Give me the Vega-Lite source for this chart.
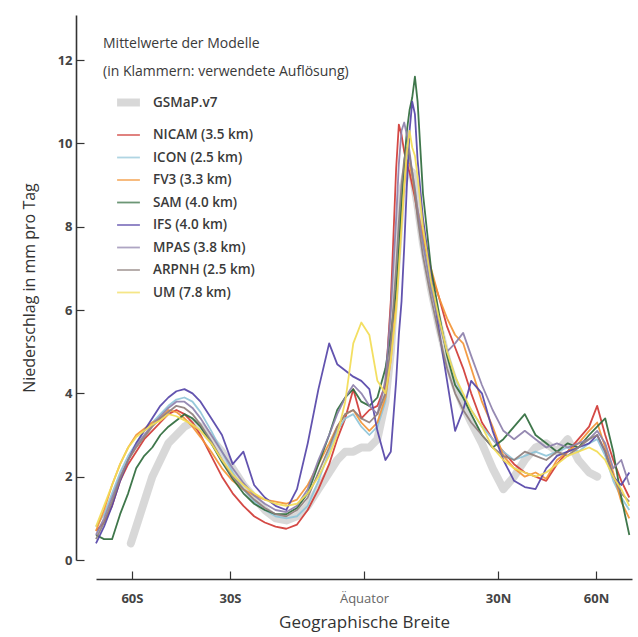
{
"$schema": "https://vega.github.io/schema/vega-lite/v6.json",
"width": 536, "height": 545,
"autosize": {"type": "none"},
"padding": {"left": 96, "top": 15, "right": 6, "bottom": 77},
"background": "white",
"config": {"view": {"stroke": null}, "font": "Open Sans", "axis": {"grid": false}},
"data": {"values": [
{"m":"GSMaP.v7","s":-0.87,"v":0.4},{"m":"GSMaP.v7","s":-0.85,"v":0.8},{"m":"GSMaP.v7","s":-0.82,"v":1.4},{"m":"GSMaP.v7","s":-0.79,"v":2.0},{"m":"GSMaP.v7","s":-0.76,"v":2.4},{"m":"GSMaP.v7","s":-0.73,"v":2.8},{"m":"GSMaP.v7","s":-0.7,"v":3.0},{"m":"GSMaP.v7","s":-0.67,"v":3.2},{"m":"GSMaP.v7","s":-0.64,"v":3.3},{"m":"GSMaP.v7","s":-0.61,"v":3.2},{"m":"GSMaP.v7","s":-0.57,"v":2.9},{"m":"GSMaP.v7","s":-0.53,"v":2.6},{"m":"GSMaP.v7","s":-0.49,"v":2.2},{"m":"GSMaP.v7","s":-0.45,"v":1.8},{"m":"GSMaP.v7","s":-0.41,"v":1.5},{"m":"GSMaP.v7","s":-0.37,"v":1.2},{"m":"GSMaP.v7","s":-0.33,"v":1.0},{"m":"GSMaP.v7","s":-0.29,"v":0.95},{"m":"GSMaP.v7","s":-0.25,"v":1.05},{"m":"GSMaP.v7","s":-0.21,"v":1.3},{"m":"GSMaP.v7","s":-0.17,"v":1.7},{"m":"GSMaP.v7","s":-0.13,"v":2.1},{"m":"GSMaP.v7","s":-0.1,"v":2.4},{"m":"GSMaP.v7","s":-0.07,"v":2.6},{"m":"GSMaP.v7","s":-0.04,"v":2.6},{"m":"GSMaP.v7","s":-0.01,"v":2.7},{"m":"GSMaP.v7","s":0.02,"v":2.7},{"m":"GSMaP.v7","s":0.05,"v":2.9},{"m":"GSMaP.v7","s":0.08,"v":3.8},{"m":"GSMaP.v7","s":0.1,"v":5.0},{"m":"GSMaP.v7","s":0.12,"v":7.0},{"m":"GSMaP.v7","s":0.14,"v":8.8},{"m":"GSMaP.v7","s":0.16,"v":9.4},{"m":"GSMaP.v7","s":0.18,"v":9.3},{"m":"GSMaP.v7","s":0.2,"v":8.5},{"m":"GSMaP.v7","s":0.22,"v":7.6},{"m":"GSMaP.v7","s":0.25,"v":6.5},{"m":"GSMaP.v7","s":0.28,"v":5.6},{"m":"GSMaP.v7","s":0.31,"v":4.8},{"m":"GSMaP.v7","s":0.34,"v":4.2},{"m":"GSMaP.v7","s":0.37,"v":3.7},{"m":"GSMaP.v7","s":0.4,"v":3.3},{"m":"GSMaP.v7","s":0.44,"v":2.8},{"m":"GSMaP.v7","s":0.48,"v":2.2},{"m":"GSMaP.v7","s":0.52,"v":1.7},{"m":"GSMaP.v7","s":0.56,"v":2.0},{"m":"GSMaP.v7","s":0.6,"v":2.4},{"m":"GSMaP.v7","s":0.64,"v":2.7},{"m":"GSMaP.v7","s":0.68,"v":2.8},{"m":"GSMaP.v7","s":0.72,"v":2.6},{"m":"GSMaP.v7","s":0.76,"v":2.9},{"m":"GSMaP.v7","s":0.8,"v":2.4},{"m":"GSMaP.v7","s":0.84,"v":2.1},{"m":"GSMaP.v7","s":0.87,"v":2.0},

{"m":"NICAM (3.5 km)","s":-1,"v":0.7},{"m":"NICAM (3.5 km)","s":-0.97,"v":0.9},{"m":"NICAM (3.5 km)","s":-0.94,"v":1.3},{"m":"NICAM (3.5 km)","s":-0.91,"v":1.9},{"m":"NICAM (3.5 km)","s":-0.88,"v":2.3},{"m":"NICAM (3.5 km)","s":-0.85,"v":2.6},{"m":"NICAM (3.5 km)","s":-0.82,"v":2.9},{"m":"NICAM (3.5 km)","s":-0.79,"v":3.1},{"m":"NICAM (3.5 km)","s":-0.76,"v":3.3},{"m":"NICAM (3.5 km)","s":-0.73,"v":3.5},{"m":"NICAM (3.5 km)","s":-0.7,"v":3.6},{"m":"NICAM (3.5 km)","s":-0.67,"v":3.5},{"m":"NICAM (3.5 km)","s":-0.64,"v":3.3},{"m":"NICAM (3.5 km)","s":-0.61,"v":3.0},{"m":"NICAM (3.5 km)","s":-0.57,"v":2.5},{"m":"NICAM (3.5 km)","s":-0.53,"v":2.0},{"m":"NICAM (3.5 km)","s":-0.49,"v":1.6},{"m":"NICAM (3.5 km)","s":-0.45,"v":1.3},{"m":"NICAM (3.5 km)","s":-0.41,"v":1.05},{"m":"NICAM (3.5 km)","s":-0.37,"v":0.9},{"m":"NICAM (3.5 km)","s":-0.33,"v":0.8},{"m":"NICAM (3.5 km)","s":-0.29,"v":0.75},{"m":"NICAM (3.5 km)","s":-0.25,"v":0.85},{"m":"NICAM (3.5 km)","s":-0.21,"v":1.2},{"m":"NICAM (3.5 km)","s":-0.17,"v":1.7},{"m":"NICAM (3.5 km)","s":-0.13,"v":2.3},{"m":"NICAM (3.5 km)","s":-0.1,"v":2.9},{"m":"NICAM (3.5 km)","s":-0.07,"v":3.4},{"m":"NICAM (3.5 km)","s":-0.04,"v":4.1},{"m":"NICAM (3.5 km)","s":-0.01,"v":3.4},{"m":"NICAM (3.5 km)","s":0.02,"v":3.6},{"m":"NICAM (3.5 km)","s":0.05,"v":3.7},{"m":"NICAM (3.5 km)","s":0.08,"v":4.2},{"m":"NICAM (3.5 km)","s":0.1,"v":6.2},{"m":"NICAM (3.5 km)","s":0.12,"v":9.4},{"m":"NICAM (3.5 km)","s":0.13,"v":10.45},{"m":"NICAM (3.5 km)","s":0.14,"v":10.2},{"m":"NICAM (3.5 km)","s":0.15,"v":9.8},{"m":"NICAM (3.5 km)","s":0.16,"v":9.5},{"m":"NICAM (3.5 km)","s":0.17,"v":9.3},{"m":"NICAM (3.5 km)","s":0.18,"v":9.0},{"m":"NICAM (3.5 km)","s":0.19,"v":8.7},{"m":"NICAM (3.5 km)","s":0.2,"v":8.3},{"m":"NICAM (3.5 km)","s":0.22,"v":7.7},{"m":"NICAM (3.5 km)","s":0.25,"v":6.9},{"m":"NICAM (3.5 km)","s":0.28,"v":6.3},{"m":"NICAM (3.5 km)","s":0.31,"v":5.6},{"m":"NICAM (3.5 km)","s":0.34,"v":5.1},{"m":"NICAM (3.5 km)","s":0.37,"v":4.6},{"m":"NICAM (3.5 km)","s":0.4,"v":4.0},{"m":"NICAM (3.5 km)","s":0.44,"v":3.3},{"m":"NICAM (3.5 km)","s":0.48,"v":2.9},{"m":"NICAM (3.5 km)","s":0.52,"v":2.6},{"m":"NICAM (3.5 km)","s":0.56,"v":2.3},{"m":"NICAM (3.5 km)","s":0.6,"v":2.1},{"m":"NICAM (3.5 km)","s":0.64,"v":2.0},{"m":"NICAM (3.5 km)","s":0.68,"v":1.9},{"m":"NICAM (3.5 km)","s":0.72,"v":2.3},{"m":"NICAM (3.5 km)","s":0.76,"v":2.6},{"m":"NICAM (3.5 km)","s":0.8,"v":2.9},{"m":"NICAM (3.5 km)","s":0.84,"v":3.2},{"m":"NICAM (3.5 km)","s":0.87,"v":3.7},{"m":"NICAM (3.5 km)","s":0.9,"v":3.0},{"m":"NICAM (3.5 km)","s":0.93,"v":2.4},{"m":"NICAM (3.5 km)","s":0.96,"v":1.9},{"m":"NICAM (3.5 km)","s":0.99,"v":1.5},

{"m":"ICON (2.5 km)","s":-1,"v":0.8},{"m":"ICON (2.5 km)","s":-0.97,"v":1.1},{"m":"ICON (2.5 km)","s":-0.94,"v":1.6},{"m":"ICON (2.5 km)","s":-0.91,"v":2.1},{"m":"ICON (2.5 km)","s":-0.88,"v":2.5},{"m":"ICON (2.5 km)","s":-0.85,"v":2.8},{"m":"ICON (2.5 km)","s":-0.82,"v":3.1},{"m":"ICON (2.5 km)","s":-0.79,"v":3.3},{"m":"ICON (2.5 km)","s":-0.76,"v":3.5},{"m":"ICON (2.5 km)","s":-0.73,"v":3.7},{"m":"ICON (2.5 km)","s":-0.7,"v":3.85},{"m":"ICON (2.5 km)","s":-0.67,"v":3.9},{"m":"ICON (2.5 km)","s":-0.64,"v":3.8},{"m":"ICON (2.5 km)","s":-0.61,"v":3.55},{"m":"ICON (2.5 km)","s":-0.57,"v":3.1},{"m":"ICON (2.5 km)","s":-0.53,"v":2.6},{"m":"ICON (2.5 km)","s":-0.49,"v":2.1},{"m":"ICON (2.5 km)","s":-0.45,"v":1.7},{"m":"ICON (2.5 km)","s":-0.41,"v":1.4},{"m":"ICON (2.5 km)","s":-0.37,"v":1.2},{"m":"ICON (2.5 km)","s":-0.33,"v":1.05},{"m":"ICON (2.5 km)","s":-0.29,"v":1.0},{"m":"ICON (2.5 km)","s":-0.25,"v":1.05},{"m":"ICON (2.5 km)","s":-0.21,"v":1.3},{"m":"ICON (2.5 km)","s":-0.17,"v":1.9},{"m":"ICON (2.5 km)","s":-0.13,"v":2.6},{"m":"ICON (2.5 km)","s":-0.1,"v":3.1},{"m":"ICON (2.5 km)","s":-0.07,"v":3.4},{"m":"ICON (2.5 km)","s":-0.04,"v":3.5},{"m":"ICON (2.5 km)","s":-0.01,"v":3.2},{"m":"ICON (2.5 km)","s":0.02,"v":3.0},{"m":"ICON (2.5 km)","s":0.05,"v":3.2},{"m":"ICON (2.5 km)","s":0.08,"v":3.8},{"m":"ICON (2.5 km)","s":0.1,"v":5.0},{"m":"ICON (2.5 km)","s":0.12,"v":6.8},{"m":"ICON (2.5 km)","s":0.13,"v":7.8},{"m":"ICON (2.5 km)","s":0.14,"v":8.7},{"m":"ICON (2.5 km)","s":0.15,"v":9.4},{"m":"ICON (2.5 km)","s":0.16,"v":9.8},{"m":"ICON (2.5 km)","s":0.17,"v":9.6},{"m":"ICON (2.5 km)","s":0.18,"v":9.3},{"m":"ICON (2.5 km)","s":0.19,"v":8.9},{"m":"ICON (2.5 km)","s":0.2,"v":8.4},{"m":"ICON (2.5 km)","s":0.22,"v":7.6},{"m":"ICON (2.5 km)","s":0.25,"v":6.6},{"m":"ICON (2.5 km)","s":0.28,"v":5.8},{"m":"ICON (2.5 km)","s":0.31,"v":5.0},{"m":"ICON (2.5 km)","s":0.34,"v":4.4},{"m":"ICON (2.5 km)","s":0.37,"v":3.9},{"m":"ICON (2.5 km)","s":0.4,"v":3.6},{"m":"ICON (2.5 km)","s":0.44,"v":3.2},{"m":"ICON (2.5 km)","s":0.48,"v":2.9},{"m":"ICON (2.5 km)","s":0.52,"v":2.6},{"m":"ICON (2.5 km)","s":0.56,"v":2.4},{"m":"ICON (2.5 km)","s":0.6,"v":2.5},{"m":"ICON (2.5 km)","s":0.64,"v":2.6},{"m":"ICON (2.5 km)","s":0.68,"v":2.5},{"m":"ICON (2.5 km)","s":0.72,"v":2.6},{"m":"ICON (2.5 km)","s":0.76,"v":2.7},{"m":"ICON (2.5 km)","s":0.8,"v":2.6},{"m":"ICON (2.5 km)","s":0.84,"v":2.8},{"m":"ICON (2.5 km)","s":0.87,"v":2.9},{"m":"ICON (2.5 km)","s":0.9,"v":2.5},{"m":"ICON (2.5 km)","s":0.93,"v":1.9},{"m":"ICON (2.5 km)","s":0.96,"v":1.5},{"m":"ICON (2.5 km)","s":0.99,"v":1.2},

{"m":"FV3 (3.3 km)","s":-1,"v":0.7},{"m":"FV3 (3.3 km)","s":-0.97,"v":1.2},{"m":"FV3 (3.3 km)","s":-0.94,"v":1.8},{"m":"FV3 (3.3 km)","s":-0.91,"v":2.3},{"m":"FV3 (3.3 km)","s":-0.88,"v":2.7},{"m":"FV3 (3.3 km)","s":-0.85,"v":3.0},{"m":"FV3 (3.3 km)","s":-0.82,"v":3.15},{"m":"FV3 (3.3 km)","s":-0.79,"v":3.3},{"m":"FV3 (3.3 km)","s":-0.76,"v":3.4},{"m":"FV3 (3.3 km)","s":-0.73,"v":3.6},{"m":"FV3 (3.3 km)","s":-0.7,"v":3.55},{"m":"FV3 (3.3 km)","s":-0.67,"v":3.4},{"m":"FV3 (3.3 km)","s":-0.64,"v":3.2},{"m":"FV3 (3.3 km)","s":-0.61,"v":2.95},{"m":"FV3 (3.3 km)","s":-0.57,"v":2.6},{"m":"FV3 (3.3 km)","s":-0.53,"v":2.2},{"m":"FV3 (3.3 km)","s":-0.49,"v":1.9},{"m":"FV3 (3.3 km)","s":-0.45,"v":1.7},{"m":"FV3 (3.3 km)","s":-0.41,"v":1.55},{"m":"FV3 (3.3 km)","s":-0.37,"v":1.45},{"m":"FV3 (3.3 km)","s":-0.33,"v":1.4},{"m":"FV3 (3.3 km)","s":-0.29,"v":1.35},{"m":"FV3 (3.3 km)","s":-0.25,"v":1.45},{"m":"FV3 (3.3 km)","s":-0.21,"v":1.8},{"m":"FV3 (3.3 km)","s":-0.17,"v":2.3},{"m":"FV3 (3.3 km)","s":-0.13,"v":2.8},{"m":"FV3 (3.3 km)","s":-0.1,"v":3.2},{"m":"FV3 (3.3 km)","s":-0.07,"v":3.5},{"m":"FV3 (3.3 km)","s":-0.04,"v":3.6},{"m":"FV3 (3.3 km)","s":-0.01,"v":3.3},{"m":"FV3 (3.3 km)","s":0.02,"v":3.1},{"m":"FV3 (3.3 km)","s":0.05,"v":3.3},{"m":"FV3 (3.3 km)","s":0.08,"v":3.9},{"m":"FV3 (3.3 km)","s":0.1,"v":4.8},{"m":"FV3 (3.3 km)","s":0.12,"v":6.2},{"m":"FV3 (3.3 km)","s":0.13,"v":7.2},{"m":"FV3 (3.3 km)","s":0.14,"v":8.2},{"m":"FV3 (3.3 km)","s":0.15,"v":9.0},{"m":"FV3 (3.3 km)","s":0.16,"v":9.6},{"m":"FV3 (3.3 km)","s":0.17,"v":9.5},{"m":"FV3 (3.3 km)","s":0.18,"v":9.2},{"m":"FV3 (3.3 km)","s":0.19,"v":8.8},{"m":"FV3 (3.3 km)","s":0.2,"v":8.4},{"m":"FV3 (3.3 km)","s":0.22,"v":7.8},{"m":"FV3 (3.3 km)","s":0.25,"v":7.0},{"m":"FV3 (3.3 km)","s":0.28,"v":6.3},{"m":"FV3 (3.3 km)","s":0.31,"v":5.8},{"m":"FV3 (3.3 km)","s":0.34,"v":5.4},{"m":"FV3 (3.3 km)","s":0.37,"v":5.2},{"m":"FV3 (3.3 km)","s":0.4,"v":4.6},{"m":"FV3 (3.3 km)","s":0.44,"v":3.8},{"m":"FV3 (3.3 km)","s":0.48,"v":3.2},{"m":"FV3 (3.3 km)","s":0.52,"v":2.5},{"m":"FV3 (3.3 km)","s":0.56,"v":2.2},{"m":"FV3 (3.3 km)","s":0.6,"v":2.0},{"m":"FV3 (3.3 km)","s":0.64,"v":2.1},{"m":"FV3 (3.3 km)","s":0.68,"v":1.95},{"m":"FV3 (3.3 km)","s":0.72,"v":2.4},{"m":"FV3 (3.3 km)","s":0.76,"v":2.6},{"m":"FV3 (3.3 km)","s":0.8,"v":2.8},{"m":"FV3 (3.3 km)","s":0.84,"v":3.1},{"m":"FV3 (3.3 km)","s":0.87,"v":3.3},{"m":"FV3 (3.3 km)","s":0.9,"v":2.7},{"m":"FV3 (3.3 km)","s":0.93,"v":2.1},{"m":"FV3 (3.3 km)","s":0.96,"v":1.4},{"m":"FV3 (3.3 km)","s":0.99,"v":1.0},

{"m":"SAM (4.0 km)","s":-1,"v":0.6},{"m":"SAM (4.0 km)","s":-0.97,"v":0.5},{"m":"SAM (4.0 km)","s":-0.94,"v":0.5},{"m":"SAM (4.0 km)","s":-0.91,"v":1.1},{"m":"SAM (4.0 km)","s":-0.88,"v":1.6},{"m":"SAM (4.0 km)","s":-0.85,"v":2.2},{"m":"SAM (4.0 km)","s":-0.82,"v":2.5},{"m":"SAM (4.0 km)","s":-0.79,"v":2.7},{"m":"SAM (4.0 km)","s":-0.76,"v":3.0},{"m":"SAM (4.0 km)","s":-0.73,"v":3.2},{"m":"SAM (4.0 km)","s":-0.7,"v":3.35},{"m":"SAM (4.0 km)","s":-0.67,"v":3.5},{"m":"SAM (4.0 km)","s":-0.64,"v":3.4},{"m":"SAM (4.0 km)","s":-0.61,"v":3.2},{"m":"SAM (4.0 km)","s":-0.57,"v":2.8},{"m":"SAM (4.0 km)","s":-0.53,"v":2.35},{"m":"SAM (4.0 km)","s":-0.49,"v":1.95},{"m":"SAM (4.0 km)","s":-0.45,"v":1.6},{"m":"SAM (4.0 km)","s":-0.41,"v":1.35},{"m":"SAM (4.0 km)","s":-0.37,"v":1.2},{"m":"SAM (4.0 km)","s":-0.33,"v":1.1},{"m":"SAM (4.0 km)","s":-0.29,"v":1.1},{"m":"SAM (4.0 km)","s":-0.25,"v":1.25},{"m":"SAM (4.0 km)","s":-0.21,"v":1.6},{"m":"SAM (4.0 km)","s":-0.17,"v":2.3},{"m":"SAM (4.0 km)","s":-0.13,"v":3.0},{"m":"SAM (4.0 km)","s":-0.1,"v":3.6},{"m":"SAM (4.0 km)","s":-0.07,"v":3.9},{"m":"SAM (4.0 km)","s":-0.04,"v":4.1},{"m":"SAM (4.0 km)","s":-0.01,"v":3.8},{"m":"SAM (4.0 km)","s":0.02,"v":3.7},{"m":"SAM (4.0 km)","s":0.05,"v":3.9},{"m":"SAM (4.0 km)","s":0.08,"v":4.6},{"m":"SAM (4.0 km)","s":0.1,"v":5.4},{"m":"SAM (4.0 km)","s":0.12,"v":6.5},{"m":"SAM (4.0 km)","s":0.13,"v":7.4},{"m":"SAM (4.0 km)","s":0.14,"v":8.6},{"m":"SAM (4.0 km)","s":0.15,"v":9.5},{"m":"SAM (4.0 km)","s":0.16,"v":10.3},{"m":"SAM (4.0 km)","s":0.17,"v":10.8},{"m":"SAM (4.0 km)","s":0.18,"v":11.1},{"m":"SAM (4.0 km)","s":0.19,"v":11.6},{"m":"SAM (4.0 km)","s":0.2,"v":11.0},{"m":"SAM (4.0 km)","s":0.22,"v":8.8},{"m":"SAM (4.0 km)","s":0.25,"v":7.0},{"m":"SAM (4.0 km)","s":0.28,"v":5.9},{"m":"SAM (4.0 km)","s":0.31,"v":4.9},{"m":"SAM (4.0 km)","s":0.34,"v":4.2},{"m":"SAM (4.0 km)","s":0.37,"v":3.9},{"m":"SAM (4.0 km)","s":0.4,"v":3.5},{"m":"SAM (4.0 km)","s":0.44,"v":3.0},{"m":"SAM (4.0 km)","s":0.48,"v":2.7},{"m":"SAM (4.0 km)","s":0.52,"v":2.9},{"m":"SAM (4.0 km)","s":0.56,"v":3.2},{"m":"SAM (4.0 km)","s":0.6,"v":3.5},{"m":"SAM (4.0 km)","s":0.64,"v":3.0},{"m":"SAM (4.0 km)","s":0.68,"v":2.8},{"m":"SAM (4.0 km)","s":0.72,"v":2.6},{"m":"SAM (4.0 km)","s":0.76,"v":2.8},{"m":"SAM (4.0 km)","s":0.8,"v":2.7},{"m":"SAM (4.0 km)","s":0.84,"v":3.0},{"m":"SAM (4.0 km)","s":0.87,"v":3.2},{"m":"SAM (4.0 km)","s":0.9,"v":3.4},{"m":"SAM (4.0 km)","s":0.93,"v":2.6},{"m":"SAM (4.0 km)","s":0.96,"v":1.5},{"m":"SAM (4.0 km)","s":0.99,"v":0.6},

{"m":"IFS (4.0 km)","s":-1,"v":0.4},{"m":"IFS (4.0 km)","s":-0.97,"v":0.8},{"m":"IFS (4.0 km)","s":-0.94,"v":1.3},{"m":"IFS (4.0 km)","s":-0.91,"v":1.9},{"m":"IFS (4.0 km)","s":-0.88,"v":2.4},{"m":"IFS (4.0 km)","s":-0.85,"v":2.8},{"m":"IFS (4.0 km)","s":-0.82,"v":3.1},{"m":"IFS (4.0 km)","s":-0.79,"v":3.4},{"m":"IFS (4.0 km)","s":-0.76,"v":3.7},{"m":"IFS (4.0 km)","s":-0.73,"v":3.9},{"m":"IFS (4.0 km)","s":-0.7,"v":4.05},{"m":"IFS (4.0 km)","s":-0.67,"v":4.1},{"m":"IFS (4.0 km)","s":-0.64,"v":4.0},{"m":"IFS (4.0 km)","s":-0.61,"v":3.8},{"m":"IFS (4.0 km)","s":-0.57,"v":3.4},{"m":"IFS (4.0 km)","s":-0.53,"v":3.0},{"m":"IFS (4.0 km)","s":-0.49,"v":2.3},{"m":"IFS (4.0 km)","s":-0.45,"v":2.6},{"m":"IFS (4.0 km)","s":-0.41,"v":1.8},{"m":"IFS (4.0 km)","s":-0.37,"v":1.5},{"m":"IFS (4.0 km)","s":-0.33,"v":1.3},{"m":"IFS (4.0 km)","s":-0.29,"v":1.2},{"m":"IFS (4.0 km)","s":-0.25,"v":1.7},{"m":"IFS (4.0 km)","s":-0.21,"v":2.8},{"m":"IFS (4.0 km)","s":-0.17,"v":4.1},{"m":"IFS (4.0 km)","s":-0.13,"v":5.2},{"m":"IFS (4.0 km)","s":-0.1,"v":4.7},{"m":"IFS (4.0 km)","s":-0.07,"v":4.55},{"m":"IFS (4.0 km)","s":-0.04,"v":4.4},{"m":"IFS (4.0 km)","s":-0.01,"v":4.3},{"m":"IFS (4.0 km)","s":0.02,"v":4.1},{"m":"IFS (4.0 km)","s":0.05,"v":3.1},{"m":"IFS (4.0 km)","s":0.08,"v":2.4},{"m":"IFS (4.0 km)","s":0.1,"v":2.6},{"m":"IFS (4.0 km)","s":0.12,"v":4.3},{"m":"IFS (4.0 km)","s":0.13,"v":5.4},{"m":"IFS (4.0 km)","s":0.14,"v":6.2},{"m":"IFS (4.0 km)","s":0.15,"v":7.5},{"m":"IFS (4.0 km)","s":0.16,"v":9.0},{"m":"IFS (4.0 km)","s":0.17,"v":10.3},{"m":"IFS (4.0 km)","s":0.18,"v":11.0},{"m":"IFS (4.0 km)","s":0.19,"v":10.7},{"m":"IFS (4.0 km)","s":0.2,"v":9.6},{"m":"IFS (4.0 km)","s":0.22,"v":8.2},{"m":"IFS (4.0 km)","s":0.25,"v":6.8},{"m":"IFS (4.0 km)","s":0.28,"v":5.5},{"m":"IFS (4.0 km)","s":0.31,"v":4.3},{"m":"IFS (4.0 km)","s":0.34,"v":3.1},{"m":"IFS (4.0 km)","s":0.37,"v":3.6},{"m":"IFS (4.0 km)","s":0.4,"v":4.3},{"m":"IFS (4.0 km)","s":0.44,"v":4.0},{"m":"IFS (4.0 km)","s":0.48,"v":3.1},{"m":"IFS (4.0 km)","s":0.52,"v":2.4},{"m":"IFS (4.0 km)","s":0.56,"v":1.9},{"m":"IFS (4.0 km)","s":0.6,"v":1.75},{"m":"IFS (4.0 km)","s":0.64,"v":1.7},{"m":"IFS (4.0 km)","s":0.68,"v":2.2},{"m":"IFS (4.0 km)","s":0.72,"v":2.5},{"m":"IFS (4.0 km)","s":0.76,"v":2.6},{"m":"IFS (4.0 km)","s":0.8,"v":2.7},{"m":"IFS (4.0 km)","s":0.84,"v":2.8},{"m":"IFS (4.0 km)","s":0.87,"v":3.0},{"m":"IFS (4.0 km)","s":0.9,"v":2.6},{"m":"IFS (4.0 km)","s":0.93,"v":2.0},{"m":"IFS (4.0 km)","s":0.96,"v":1.8},{"m":"IFS (4.0 km)","s":0.99,"v":2.1},

{"m":"MPAS (3.8 km)","s":-1,"v":0.6},{"m":"MPAS (3.8 km)","s":-0.97,"v":1.0},{"m":"MPAS (3.8 km)","s":-0.94,"v":1.5},{"m":"MPAS (3.8 km)","s":-0.91,"v":2.0},{"m":"MPAS (3.8 km)","s":-0.88,"v":2.4},{"m":"MPAS (3.8 km)","s":-0.85,"v":2.75},{"m":"MPAS (3.8 km)","s":-0.82,"v":3.0},{"m":"MPAS (3.8 km)","s":-0.79,"v":3.25},{"m":"MPAS (3.8 km)","s":-0.76,"v":3.45},{"m":"MPAS (3.8 km)","s":-0.73,"v":3.65},{"m":"MPAS (3.8 km)","s":-0.7,"v":3.8},{"m":"MPAS (3.8 km)","s":-0.67,"v":3.8},{"m":"MPAS (3.8 km)","s":-0.64,"v":3.65},{"m":"MPAS (3.8 km)","s":-0.61,"v":3.4},{"m":"MPAS (3.8 km)","s":-0.57,"v":3.0},{"m":"MPAS (3.8 km)","s":-0.53,"v":2.6},{"m":"MPAS (3.8 km)","s":-0.49,"v":2.2},{"m":"MPAS (3.8 km)","s":-0.45,"v":1.85},{"m":"MPAS (3.8 km)","s":-0.41,"v":1.55},{"m":"MPAS (3.8 km)","s":-0.37,"v":1.35},{"m":"MPAS (3.8 km)","s":-0.33,"v":1.2},{"m":"MPAS (3.8 km)","s":-0.29,"v":1.15},{"m":"MPAS (3.8 km)","s":-0.25,"v":1.3},{"m":"MPAS (3.8 km)","s":-0.21,"v":1.7},{"m":"MPAS (3.8 km)","s":-0.17,"v":2.4},{"m":"MPAS (3.8 km)","s":-0.13,"v":3.0},{"m":"MPAS (3.8 km)","s":-0.1,"v":3.5},{"m":"MPAS (3.8 km)","s":-0.07,"v":3.9},{"m":"MPAS (3.8 km)","s":-0.04,"v":4.2},{"m":"MPAS (3.8 km)","s":-0.01,"v":4.0},{"m":"MPAS (3.8 km)","s":0.02,"v":3.7},{"m":"MPAS (3.8 km)","s":0.05,"v":3.5},{"m":"MPAS (3.8 km)","s":0.08,"v":4.3},{"m":"MPAS (3.8 km)","s":0.1,"v":6.0},{"m":"MPAS (3.8 km)","s":0.12,"v":8.2},{"m":"MPAS (3.8 km)","s":0.13,"v":9.5},{"m":"MPAS (3.8 km)","s":0.14,"v":10.3},{"m":"MPAS (3.8 km)","s":0.15,"v":10.5},{"m":"MPAS (3.8 km)","s":0.16,"v":10.2},{"m":"MPAS (3.8 km)","s":0.17,"v":9.8},{"m":"MPAS (3.8 km)","s":0.18,"v":9.3},{"m":"MPAS (3.8 km)","s":0.19,"v":8.9},{"m":"MPAS (3.8 km)","s":0.2,"v":8.4},{"m":"MPAS (3.8 km)","s":0.22,"v":7.6},{"m":"MPAS (3.8 km)","s":0.25,"v":6.5},{"m":"MPAS (3.8 km)","s":0.28,"v":5.7},{"m":"MPAS (3.8 km)","s":0.31,"v":5.0},{"m":"MPAS (3.8 km)","s":0.34,"v":5.2},{"m":"MPAS (3.8 km)","s":0.37,"v":5.45},{"m":"MPAS (3.8 km)","s":0.4,"v":4.9},{"m":"MPAS (3.8 km)","s":0.44,"v":4.2},{"m":"MPAS (3.8 km)","s":0.48,"v":3.6},{"m":"MPAS (3.8 km)","s":0.52,"v":3.1},{"m":"MPAS (3.8 km)","s":0.56,"v":2.9},{"m":"MPAS (3.8 km)","s":0.6,"v":3.1},{"m":"MPAS (3.8 km)","s":0.64,"v":2.9},{"m":"MPAS (3.8 km)","s":0.68,"v":2.7},{"m":"MPAS (3.8 km)","s":0.72,"v":2.8},{"m":"MPAS (3.8 km)","s":0.76,"v":2.7},{"m":"MPAS (3.8 km)","s":0.8,"v":2.8},{"m":"MPAS (3.8 km)","s":0.84,"v":2.9},{"m":"MPAS (3.8 km)","s":0.87,"v":3.1},{"m":"MPAS (3.8 km)","s":0.9,"v":2.8},{"m":"MPAS (3.8 km)","s":0.93,"v":2.2},{"m":"MPAS (3.8 km)","s":0.96,"v":2.4},{"m":"MPAS (3.8 km)","s":0.99,"v":1.8},

{"m":"ARPNH (2.5 km)","s":-1,"v":0.5},{"m":"ARPNH (2.5 km)","s":-0.97,"v":0.9},{"m":"ARPNH (2.5 km)","s":-0.94,"v":1.4},{"m":"ARPNH (2.5 km)","s":-0.91,"v":1.95},{"m":"ARPNH (2.5 km)","s":-0.88,"v":2.4},{"m":"ARPNH (2.5 km)","s":-0.85,"v":2.7},{"m":"ARPNH (2.5 km)","s":-0.82,"v":2.95},{"m":"ARPNH (2.5 km)","s":-0.79,"v":3.2},{"m":"ARPNH (2.5 km)","s":-0.76,"v":3.4},{"m":"ARPNH (2.5 km)","s":-0.73,"v":3.55},{"m":"ARPNH (2.5 km)","s":-0.7,"v":3.7},{"m":"ARPNH (2.5 km)","s":-0.67,"v":3.65},{"m":"ARPNH (2.5 km)","s":-0.64,"v":3.5},{"m":"ARPNH (2.5 km)","s":-0.61,"v":3.25},{"m":"ARPNH (2.5 km)","s":-0.57,"v":2.85},{"m":"ARPNH (2.5 km)","s":-0.53,"v":2.4},{"m":"ARPNH (2.5 km)","s":-0.49,"v":2.0},{"m":"ARPNH (2.5 km)","s":-0.45,"v":1.7},{"m":"ARPNH (2.5 km)","s":-0.41,"v":1.45},{"m":"ARPNH (2.5 km)","s":-0.37,"v":1.25},{"m":"ARPNH (2.5 km)","s":-0.33,"v":1.1},{"m":"ARPNH (2.5 km)","s":-0.29,"v":1.05},{"m":"ARPNH (2.5 km)","s":-0.25,"v":1.2},{"m":"ARPNH (2.5 km)","s":-0.21,"v":1.5},{"m":"ARPNH (2.5 km)","s":-0.17,"v":2.1},{"m":"ARPNH (2.5 km)","s":-0.13,"v":2.7},{"m":"ARPNH (2.5 km)","s":-0.1,"v":3.2},{"m":"ARPNH (2.5 km)","s":-0.07,"v":3.5},{"m":"ARPNH (2.5 km)","s":-0.04,"v":3.6},{"m":"ARPNH (2.5 km)","s":-0.01,"v":3.4},{"m":"ARPNH (2.5 km)","s":0.02,"v":3.3},{"m":"ARPNH (2.5 km)","s":0.05,"v":3.5},{"m":"ARPNH (2.5 km)","s":0.08,"v":4.0},{"m":"ARPNH (2.5 km)","s":0.1,"v":5.2},{"m":"ARPNH (2.5 km)","s":0.12,"v":7.0},{"m":"ARPNH (2.5 km)","s":0.13,"v":8.1},{"m":"ARPNH (2.5 km)","s":0.14,"v":9.0},{"m":"ARPNH (2.5 km)","s":0.15,"v":9.6},{"m":"ARPNH (2.5 km)","s":0.16,"v":9.9},{"m":"ARPNH (2.5 km)","s":0.17,"v":9.7},{"m":"ARPNH (2.5 km)","s":0.18,"v":9.3},{"m":"ARPNH (2.5 km)","s":0.19,"v":8.8},{"m":"ARPNH (2.5 km)","s":0.2,"v":8.2},{"m":"ARPNH (2.5 km)","s":0.22,"v":7.3},{"m":"ARPNH (2.5 km)","s":0.25,"v":6.3},{"m":"ARPNH (2.5 km)","s":0.28,"v":5.4},{"m":"ARPNH (2.5 km)","s":0.31,"v":4.6},{"m":"ARPNH (2.5 km)","s":0.34,"v":4.0},{"m":"ARPNH (2.5 km)","s":0.37,"v":3.6},{"m":"ARPNH (2.5 km)","s":0.4,"v":3.3},{"m":"ARPNH (2.5 km)","s":0.44,"v":3.0},{"m":"ARPNH (2.5 km)","s":0.48,"v":2.7},{"m":"ARPNH (2.5 km)","s":0.52,"v":2.5},{"m":"ARPNH (2.5 km)","s":0.56,"v":2.4},{"m":"ARPNH (2.5 km)","s":0.6,"v":2.6},{"m":"ARPNH (2.5 km)","s":0.64,"v":2.5},{"m":"ARPNH (2.5 km)","s":0.68,"v":2.4},{"m":"ARPNH (2.5 km)","s":0.72,"v":2.6},{"m":"ARPNH (2.5 km)","s":0.76,"v":2.5},{"m":"ARPNH (2.5 km)","s":0.8,"v":2.7},{"m":"ARPNH (2.5 km)","s":0.84,"v":2.9},{"m":"ARPNH (2.5 km)","s":0.87,"v":3.0},{"m":"ARPNH (2.5 km)","s":0.9,"v":2.6},{"m":"ARPNH (2.5 km)","s":0.93,"v":2.0},{"m":"ARPNH (2.5 km)","s":0.96,"v":1.6},{"m":"ARPNH (2.5 km)","s":0.99,"v":1.4},

{"m":"UM (7.8 km)","s":-1,"v":0.8},{"m":"UM (7.8 km)","s":-0.97,"v":1.3},{"m":"UM (7.8 km)","s":-0.94,"v":1.8},{"m":"UM (7.8 km)","s":-0.91,"v":2.3},{"m":"UM (7.8 km)","s":-0.88,"v":2.7},{"m":"UM (7.8 km)","s":-0.85,"v":2.95},{"m":"UM (7.8 km)","s":-0.82,"v":3.1},{"m":"UM (7.8 km)","s":-0.79,"v":3.25},{"m":"UM (7.8 km)","s":-0.76,"v":3.35},{"m":"UM (7.8 km)","s":-0.73,"v":3.5},{"m":"UM (7.8 km)","s":-0.7,"v":3.45},{"m":"UM (7.8 km)","s":-0.67,"v":3.35},{"m":"UM (7.8 km)","s":-0.64,"v":3.25},{"m":"UM (7.8 km)","s":-0.61,"v":3.1},{"m":"UM (7.8 km)","s":-0.57,"v":2.8},{"m":"UM (7.8 km)","s":-0.53,"v":2.4},{"m":"UM (7.8 km)","s":-0.49,"v":2.05},{"m":"UM (7.8 km)","s":-0.45,"v":1.8},{"m":"UM (7.8 km)","s":-0.41,"v":1.6},{"m":"UM (7.8 km)","s":-0.37,"v":1.45},{"m":"UM (7.8 km)","s":-0.33,"v":1.35},{"m":"UM (7.8 km)","s":-0.29,"v":1.3},{"m":"UM (7.8 km)","s":-0.25,"v":1.35},{"m":"UM (7.8 km)","s":-0.21,"v":1.6},{"m":"UM (7.8 km)","s":-0.17,"v":2.0},{"m":"UM (7.8 km)","s":-0.13,"v":2.5},{"m":"UM (7.8 km)","s":-0.1,"v":3.0},{"m":"UM (7.8 km)","s":-0.07,"v":3.8},{"m":"UM (7.8 km)","s":-0.04,"v":5.2},{"m":"UM (7.8 km)","s":-0.01,"v":5.7},{"m":"UM (7.8 km)","s":0.02,"v":5.4},{"m":"UM (7.8 km)","s":0.05,"v":4.3},{"m":"UM (7.8 km)","s":0.08,"v":4.0},{"m":"UM (7.8 km)","s":0.1,"v":4.8},{"m":"UM (7.8 km)","s":0.12,"v":6.0},{"m":"UM (7.8 km)","s":0.13,"v":7.0},{"m":"UM (7.8 km)","s":0.14,"v":8.0},{"m":"UM (7.8 km)","s":0.15,"v":9.0},{"m":"UM (7.8 km)","s":0.16,"v":9.8},{"m":"UM (7.8 km)","s":0.17,"v":10.3},{"m":"UM (7.8 km)","s":0.18,"v":9.9},{"m":"UM (7.8 km)","s":0.19,"v":9.7},{"m":"UM (7.8 km)","s":0.2,"v":9.2},{"m":"UM (7.8 km)","s":0.22,"v":8.0},{"m":"UM (7.8 km)","s":0.25,"v":6.7},{"m":"UM (7.8 km)","s":0.28,"v":5.8},{"m":"UM (7.8 km)","s":0.31,"v":5.0},{"m":"UM (7.8 km)","s":0.34,"v":4.4},{"m":"UM (7.8 km)","s":0.37,"v":4.0},{"m":"UM (7.8 km)","s":0.4,"v":3.6},{"m":"UM (7.8 km)","s":0.44,"v":3.2},{"m":"UM (7.8 km)","s":0.48,"v":2.7},{"m":"UM (7.8 km)","s":0.52,"v":2.4},{"m":"UM (7.8 km)","s":0.56,"v":2.2},{"m":"UM (7.8 km)","s":0.6,"v":2.1},{"m":"UM (7.8 km)","s":0.64,"v":2.0},{"m":"UM (7.8 km)","s":0.68,"v":2.1},{"m":"UM (7.8 km)","s":0.72,"v":2.3},{"m":"UM (7.8 km)","s":0.76,"v":2.5},{"m":"UM (7.8 km)","s":0.8,"v":2.6},{"m":"UM (7.8 km)","s":0.84,"v":2.7},{"m":"UM (7.8 km)","s":0.87,"v":2.6},{"m":"UM (7.8 km)","s":0.9,"v":2.4},{"m":"UM (7.8 km)","s":0.93,"v":2.0},{"m":"UM (7.8 km)","s":0.96,"v":1.7},{"m":"UM (7.8 km)","s":0.99,"v":1.3}
]},
"encoding": {
  "x": {"field": "s", "type": "quantitative", "scale": {"domain": [-1, 1], "nice": false, "zero": false},
    "axis": {"values": [-0.866, -0.5, 0, 0.5, 0.866],
      "labelExpr": "datum.value < -0.7 ? '60S' : datum.value < -0.2 ? '30S' : datum.value < 0.2 ? 'Äquator' : datum.value < 0.7 ? '30N' : '60N'",
      "offset": 19, "domainColor": "#333333", "domainWidth": 1.6, "tickColor": "#333333", "tickSize": -8, "tickWidth": 1.2,
      "labelPadding": 21, "labelFontSize": 13, "labelFont": "Open Sans", "labelColor": {"condition": {"test": "datum.value == 0", "value": "#666666"}, "value": "#444444"},
      "labelFontWeight": {"condition": {"test": "datum.value == 0", "value": "normal"}, "value": "bold"},
      "title": "Geographische Breite", "titleFont": "Open Sans", "titleFontSize": 17, "titleFontWeight": "normal", "titleColor": "#333333", "titlePadding": 9, "grid": false}},
  "y": {"field": "v", "type": "quantitative", "scale": {"domain": [0, 13.08], "nice": false, "zero": false},
    "axis": {"values": [0, 2, 4, 6, 8, 10, 12], "offset": 20, "domainColor": "#333333", "domainWidth": 1.6, "tickColor": "#333333", "tickSize": -8, "tickWidth": 1.2,
      "labelPadding": 12, "labelFontSize": 13, "labelFont": "Open Sans", "labelColor": "#444444", "labelFontWeight": "bold",
      "title": "Niederschlag in mm pro Tag", "titleFont": "Open Sans", "titleFontSize": 16, "titleFontWeight": "normal", "titleColor": "#333333", "titlePadding": 20, "grid": false}},
  "color": {"field": "m", "type": "nominal",
    "scale": {"domain": ["GSMaP.v7", "NICAM (3.5 km)", "ICON (2.5 km)", "FV3 (3.3 km)", "SAM (4.0 km)", "IFS (4.0 km)", "MPAS (3.8 km)", "ARPNH (2.5 km)", "UM (7.8 km)"],
      "range": ["#c8c8c8", "#d03a35", "#8fc4d8", "#f39536", "#2f6b3c", "#5544a8", "#8d80ab", "#8f7f7d", "#f2dc55"]},
    "legend": {"orient": "none", "legendX": 7, "legendY": 22,
      "title": ["Mittelwerte der Modelle", "(in Klammern: verwendete Auflösung)"],
      "titleFont": "Open Sans", "titleFontSize": 14, "titleFontWeight": "normal", "titleColor": "#3a3a3a", "titleLineHeight": 28, "titlePadding": 8, "titleLimit": 400,
      "labelFont": "Open Sans", "labelFontSize": 13.5, "labelFontWeight": 600, "labelColor": "#3a3a3a", "labelOffset": 9, "labelLimit": 300,
      "symbolType": "stroke", "symbolSize": 520, "symbolOffset": 10, "rowPadding": 3.5}},
  "strokeWidth": {"field": "m", "type": "nominal",
    "scale": {"type": "ordinal", "domain": ["GSMaP.v7", "NICAM (3.5 km)", "ICON (2.5 km)", "FV3 (3.3 km)", "SAM (4.0 km)", "IFS (4.0 km)", "MPAS (3.8 km)", "ARPNH (2.5 km)", "UM (7.8 km)"],
      "range": [8, 1.8, 1.8, 1.8, 1.8, 1.8, 1.8, 1.8, 1.8]},
    "legend": {"orient": "none", "legendX": 7, "legendY": 22,
      "title": ["Mittelwerte der Modelle", "(in Klammern: verwendete Auflösung)"],
      "titleFont": "Open Sans", "titleFontSize": 14, "titleFontWeight": "normal", "titleColor": "#3a3a3a", "titleLineHeight": 28, "titlePadding": 8, "titleLimit": 400,
      "labelFont": "Open Sans", "labelFontSize": 13.5, "labelFontWeight": 600, "labelColor": "#3a3a3a", "labelOffset": 9, "labelLimit": 300,
      "symbolType": "stroke", "symbolSize": 520, "symbolOffset": 10, "rowPadding": 3.5}}
},
"layer": [
  {"transform": [{"filter": "datum.m == 'GSMaP.v7'"}], "mark": {"type": "line", "opacity": 0.7, "strokeCap": "round", "strokeJoin": "round"}},
  {"transform": [{"filter": "datum.m != 'GSMaP.v7'"}], "mark": {"type": "line", "opacity": 0.92, "strokeJoin": "round"}}
]
}
